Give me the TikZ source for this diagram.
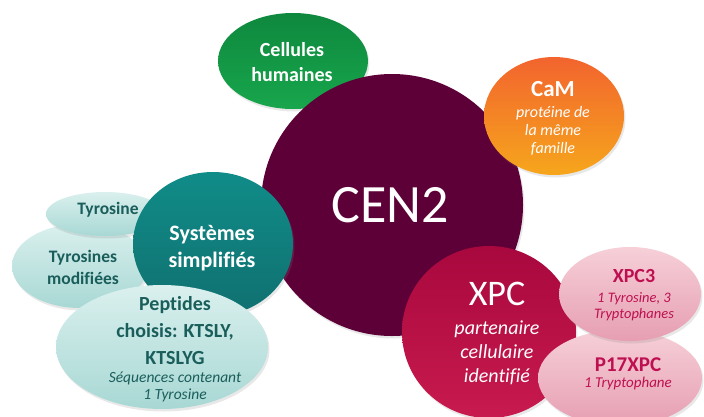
\documentclass[tikz,border=0pt]{standalone}
\usepackage{fontspec}
\setmainfont{Carlito}[Ligatures=NoCommon]
\usetikzlibrary{shapes.geometric, shadows}
\definecolor{cenmaroon}{RGB}{94, 0, 56}
\definecolor{celltop}{RGB}{14, 136, 62}
\definecolor{cellbot}{RGB}{24, 166, 76}
\definecolor{camtop}{RGB}{242, 100, 46}
\definecolor{cambot}{RGB}{246, 166, 28}
\definecolor{systop}{RGB}{16, 140, 136}
\definecolor{sysbot}{RGB}{16, 112, 112}
\definecolor{tyrtop}{RGB}{218, 240, 238}
\definecolor{tyrbot}{RGB}{168, 216, 212}
\definecolor{tyrtext}{RGB}{26, 94, 92}
\definecolor{xpctop}{RGB}{168, 8, 62}
\definecolor{xpcbot}{RGB}{200, 26, 78}
\definecolor{subtop}{RGB}{246, 208, 216}
\definecolor{subbot}{RGB}{230, 158, 178}
\definecolor{subtext}{RGB}{190, 16, 80}
\newcommand{\bubfont}[2]{\fontsize{#1}{#2}\selectfont\lineskiplimit=-50pt}
\tikzstyle{bubble} = [ellipse, inner sep=0pt, drop shadow={opacity=0.18, shadow xshift=1.5pt, shadow yshift=-2.5pt}]
\tikzstyle{bubtext} = [align=center, inner sep=0pt]

\begin{document}
\begin{tikzpicture}[x=1pt, y=-1pt]
\useasboundingbox (0,0) rectangle (704,416);
\clip (0,0) rectangle (704,416);

% centre and upper bubbles
\node[bubble, top color=celltop, bottom color=cellbot, minimum width=150pt, minimum height=96pt] (cellules) at (293,61) {};
\node[bubtext, text=white, font=\bfseries\bubfont{20}{25}] (cellulestxt) at (292,62) {Cellules\\humaines};

\node[bubble, fill=cenmaroon, minimum width=262pt, minimum height=262pt] (cen) at (392,205) {};
\node[bubtext, text=white, font=\bubfont{54}{60}] (centxt) at (390,205) {CEN2};

\node[bubble, top color=camtop, bottom color=cambot, minimum width=140pt, minimum height=118pt] (cam) at (554,116) {};
\node[bubtext, text=white, font=\itshape\bubfont{16}{18}] (camtxt) at (553,118)
    {{\bfseries\upshape\bubfont{23}{23}CaM}\\[3pt]protéine de\\la même\\famille};

% left group
\node[bubble, top color=tyrtop, bottom color=tyrbot, minimum width=136pt, minimum height=84pt] (tyrmod) at (80,266) {};
\node[bubtext, text=tyrtext, font=\bfseries\bubfont{17.5}{22}] (tyrmodtxt) at (83,267) {Tyrosines\\modifiées};

\node[bubble, top color=tyrtop, bottom color=tyrbot, minimum width=118pt, minimum height=44pt] (tyr) at (105,214) {};
\node[bubtext, text=tyrtext, font=\bfseries\bubfont{17.5}{22}] (tyrtxt) at (108,210) {Tyrosine};

\node[bubble, top color=systop, bottom color=sysbot, minimum width=160pt, minimum height=144pt] (sys) at (213,244) {};
\node[bubtext, text=white, font=\bfseries\bubfont{22}{27}] (systxt) at (212,248) {Systèmes\\simplifiés};

\node[bubble, top color=tyrtop, bottom color=tyrbot, minimum width=212pt, minimum height=124pt] (pept) at (162,347) {};
\node[bubtext, text=tyrtext, font=\itshape\bubfont{15.5}{17}] (pepttxt) at (175,349)
    {{\bfseries\upshape\bubfont{20}{20}Peptides}\\[10pt]
     {\bfseries\upshape\bubfont{20}{20}choisis: KTSLY,}\\[10pt]
     {\bfseries\upshape\bubfont{20}{20}KTSLYG}\\[1pt]
     Séquences contenant\\1 Tyrosine};

% lower right group
\node[bubble, top color=xpctop, bottom color=xpcbot, minimum width=174pt, minimum height=172pt] (xpc) at (489,332) {};
\node[bubtext, text=white, font=\itshape\bubfont{20}{24}] (xpctxt) at (497,333)
    {{\upshape\bubfont{36}{36}XPC}\\[5pt]partenaire\\cellulaire\\identifié};

\node[bubble, top color=subtop, bottom color=subbot, minimum width=164pt, minimum height=96pt] (p17) at (620,378) {};
\node[bubtext, text=subtext, font=\itshape\bubfont{15}{16}] (p17txt) at (628,374)
    {{\bfseries\upshape\bubfont{21}{21}P17XPC}\\1 Tryptophane};

\node[bubble, top color=subtop, bottom color=subbot, minimum width=142pt, minimum height=94pt] (xpcthree) at (630,294) {};
\node[bubtext, text=subtext, font=\itshape\bubfont{14.5}{16}] (xpcthreetxt) at (634,295)
    {{\bfseries\upshape\bubfont{20}{20}XPC3}\\[4pt]1 Tyrosine, 3\\Tryptophanes};
\end{tikzpicture}
\end{document}
